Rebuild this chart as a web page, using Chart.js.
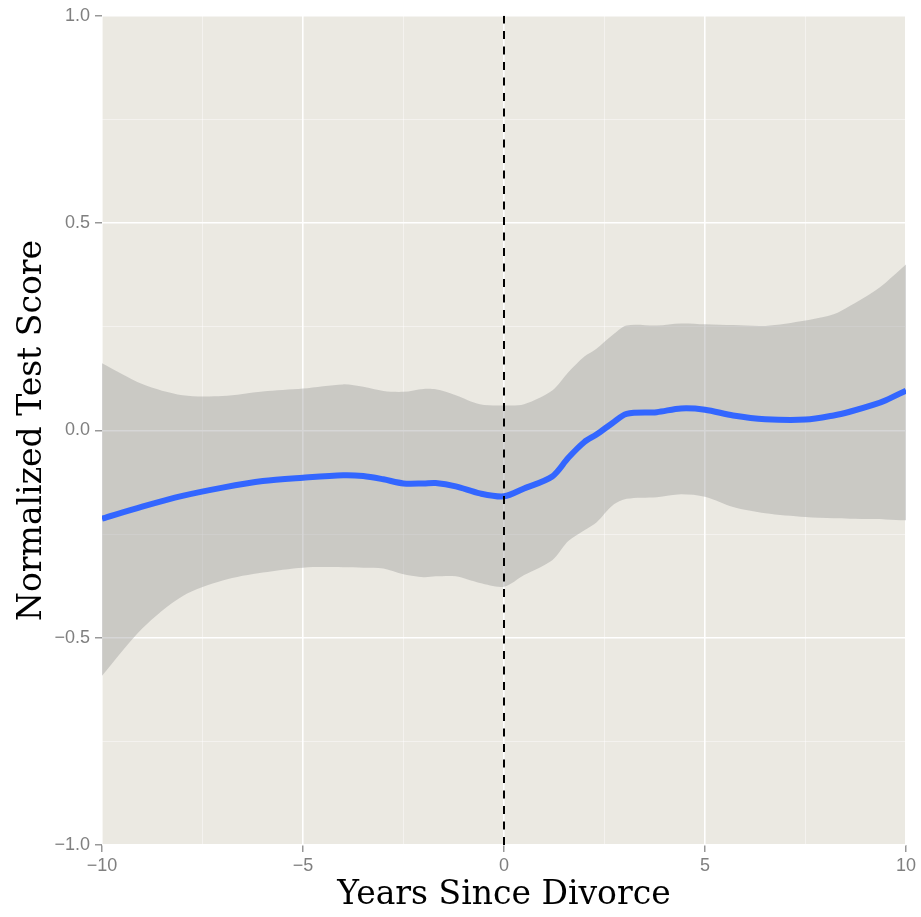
<!DOCTYPE html>
<html lang="en">
<head>
    <meta charset="UTF-8">
    <title>Normalized Test Score</title>
    <script src="https://cdn.jsdelivr.net/npm/chart.js"></script>
    <style>
        body {
            margin: 0;
            padding: 0;
            background-color: #ffffff;
        }
        #wrap {
            width: 921px;
            height: 917px;
        }
    </style>
</head>
<body>
    <div id="wrap"><canvas id="scoreChart" width="921" height="917"></canvas></div>

    <script>
// years since divorce (x positions of the smoothed curve)
const years = [-10, -9, -8, -7, -6, -5, -4, -3.5, -3, -2.5, -2, -1.7, -1.2, -0.6, 0, 0.5, 1.2, 1.6, 2, 2.3, 2.7, 3.05, 3.8, 4.4, 5, 5.7, 6.5, 7.5, 8.2, 8.6, 9.2, 9.5, 10];

// smoothed fit
const fitValues = [-0.213, -0.184, -0.158, -0.138, -0.122, -0.114, -0.108, -0.110, -0.118, -0.128, -0.128, -0.127, -0.135, -0.152, -0.159, -0.140, -0.111, -0.066, -0.028, -0.010, 0.018, 0.040, 0.044, 0.053, 0.050, 0.036, 0.027, 0.026, 0.036, 0.045, 0.062, 0.073, 0.096];

// confidence band
const upperValues = [0.162, 0.112, 0.085, 0.083, 0.094, 0.101, 0.111, 0.105, 0.095, 0.093, 0.100, 0.099, 0.085, 0.063, 0.060, 0.063, 0.096, 0.140, 0.178, 0.197, 0.230, 0.253, 0.253, 0.258, 0.256, 0.254, 0.252, 0.265, 0.280, 0.300, 0.335, 0.357, 0.400];
const lowerValues = [-0.592, -0.478, -0.400, -0.362, -0.343, -0.331, -0.330, -0.331, -0.333, -0.347, -0.354, -0.352, -0.352, -0.368, -0.377, -0.349, -0.313, -0.267, -0.241, -0.222, -0.181, -0.165, -0.161, -0.154, -0.160, -0.185, -0.200, -0.209, -0.212, -0.213, -0.214, -0.215, -0.217];

// divorce marker
const divorceYear = 0;
const markerRange = [-1, 1];

// axis ticks
const xTicks = [-10, -5, 0, 5, 10];
const yTicks = [-1.0, -0.5, 0.0, 0.5, 1.0];

function toPoints(xs, ys) {
    return xs.map((x, i) => ({ x: x, y: ys[i] }));
}

function fmt(v, digits) {
    let s = Math.abs(v).toFixed(digits);
    return v < 0 ? "\u2212" + s : s;
}

function isMajor(list, v) {
    return list.some(t => Math.abs(t - v) < 1e-9);
}

// panel background
const panelBg = {
    id: "panelBg",
    beforeDraw(chart) {
        const { ctx, chartArea } = chart;
        ctx.save();
        ctx.fillStyle = "#EBE9E2";
        ctx.fillRect(chartArea.left, chartArea.top, chartArea.right - chartArea.left, chartArea.bottom - chartArea.top);
        ctx.restore();
    }
};

let ctx = document.getElementById("scoreChart").getContext("2d");
new Chart(ctx, {
    type: "line",
    data: {
        datasets: [
            {
                label: "upper",
                data: toPoints(years, upperValues),
                borderWidth: 0,
                pointRadius: 0,
                tension: 0.3,
                fill: "+1",
                backgroundColor: "rgba(153,153,153,0.4)",
                order: 5
            },
            {
                label: "lower",
                data: toPoints(years, lowerValues),
                borderWidth: 0,
                pointRadius: 0,
                tension: 0.3,
                fill: false,
                order: 6
            },
            {
                label: "fit",
                data: toPoints(years, fitValues),
                borderColor: "#3366FF",
                borderWidth: 6,
                pointRadius: 0,
                tension: 0.3,
                borderCapStyle: "butt",
                fill: false,
                order: 1
            },
            {
                label: "divorce",
                data: markerRange.map(y => ({ x: divorceYear, y: y })),
                borderColor: "#000000",
                borderWidth: 2,
                borderDash: [8, 7.5],
                pointRadius: 0,
                fill: false,
                order: 0
            }
        ]
    },
    options: {
        responsive: false,
        animation: false,
        layout: { padding: { top: 15, right: 15, left: 0, bottom: 0 } },
        plugins: {
            legend: { display: false },
            tooltip: { enabled: false }
        },
        scales: {
            x: {
                type: "linear",
                min: -10,
                max: 10,
                border: { display: false },
                afterFit: (scale) => { scale.height = 72; },
                afterBuildTicks: (scale) => {
                    let t = [];
                    for (let v = -10; v <= 10.001; v += 2.5) t.push({ value: v });
                    scale.ticks = t;
                },
                grid: {
                    color: (c) => isMajor(xTicks, c.tick.value) ? "#FFFFFF" : "rgba(255,255,255,0.55)",
                    lineWidth: (c) => isMajor(xTicks, c.tick.value) ? 1.6 : 0.8,
                    tickColor: (c) => isMajor(xTicks, c.tick.value) ? "#7F7F7F" : "rgba(0,0,0,0)",
                    tickLength: 7,
                    tickWidth: 1.2
                },
                ticks: {
                    autoSkip: false,
                    maxRotation: 0,
                    padding: 3,
                    color: "#7F7F7F",
                    font: { family: "'Liberation Sans', Arial, sans-serif", size: 18 },
                    callback: (v) => isMajor(xTicks, v) ? fmt(v, 0) : ""
                },
                title: {
                    display: true,
                    text: "Years Since Divorce",
                    color: "#000000",
                    font: { family: "'DejaVu Serif', serif", size: 33, lineHeight: 1.2 },
                    padding: { top: 0, bottom: 2 }
                }
            },
            y: {
                type: "linear",
                min: -1,
                max: 1,
                border: { display: false },
                afterFit: (scale) => { scale.width = 102; },
                afterBuildTicks: (scale) => {
                    let t = [];
                    for (let v = -1; v <= 1.001; v += 0.25) t.push({ value: Math.round(v * 100) / 100 });
                    scale.ticks = t;
                },
                grid: {
                    color: (c) => isMajor(yTicks, c.tick.value) ? "#FFFFFF" : "rgba(255,255,255,0.55)",
                    lineWidth: (c) => isMajor(yTicks, c.tick.value) ? 1.6 : 0.8,
                    tickColor: (c) => isMajor(yTicks, c.tick.value) ? "#7F7F7F" : "rgba(0,0,0,0)",
                    tickLength: 7,
                    tickWidth: 1.2
                },
                ticks: {
                    autoSkip: false,
                    padding: 5,
                    color: "#7F7F7F",
                    font: { family: "'Liberation Sans', Arial, sans-serif", size: 18 },
                    callback: (v) => isMajor(yTicks, v) ? fmt(v, 1) : ""
                },
                title: {
                    display: true,
                    text: "Normalized Test Score",
                    color: "#000000",
                    font: { family: "'DejaVu Serif', serif", size: 33, lineHeight: 1.2 },
                    padding: { top: 13, bottom: 0 }
                }
            }
        }
    },
    plugins: [panelBg]
});
    </script>
</body>
</html>
